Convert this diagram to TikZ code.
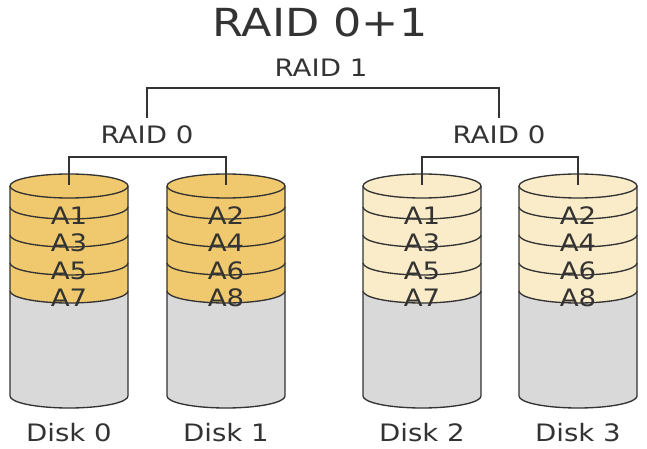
\documentclass[tikz,border=0pt]{standalone}
\usepackage{fontspec}
\setmainfont{DejaVu Sans}
\definecolor{dY}{HTML}{F0C96E}
\definecolor{lY}{HTML}{FBECC9}
\definecolor{gB}{HTML}{D9D9D9}
\definecolor{ln}{HTML}{333333}
\tikzset{lbl/.style={font=\fontsize{18}{21}\selectfont,text=ln,inner sep=0pt,xscale=1.15},
  conn/.style={draw=ln,line width=0.9pt},
  dsk/.style={draw=ln,line width=1pt}}
\newcommand\mydisk[7]{% cx, color, name, l1..l4
  \begin{scope}[shift={(#1,0)}]
  \fill[gB] (-59,186) -- (-59,396) arc[start angle=180,end angle=0,x radius=59,y radius=12] -- (59,186) -- cycle;
  \fill[#2] (-59,186) -- (-59,291) arc[start angle=180,end angle=0,x radius=59,y radius=12] -- (59,186) arc[start angle=0,end angle=-180,x radius=59,y radius=12] -- cycle;
  \foreach \yy in {207,235,263,291}{\draw[dsk] (-59,\yy) arc[start angle=180,end angle=0,x radius=59,y radius=12];}
  \draw[dsk] (0,186) ellipse[x radius=59,y radius=12];
  \draw[dsk] (-59,186) -- (-59,396) arc[start angle=180,end angle=0,x radius=59,y radius=12] -- (59,186);
  \node[lbl] at (0,216) {#4};
  \node[lbl] at (0,243) {#5};
  \node[lbl] at (0,271) {#6};
  \node[lbl] at (0,298) {#7};
  \coordinate (#3) at (0,185);
  \end{scope}}
\begin{document}
\begin{tikzpicture}[x=0.75pt,y=-0.75pt]
\useasboundingbox (0,0) rectangle (647,449);
\node[font=\fontsize{29}{34}\selectfont,text=ln,inner sep=0pt,xscale=1.15] (title) at (320,22) {RAID 0+1};
\node[lbl] (r1) at (321,68) {RAID 1};
\node[lbl] (r0a) at (147,135) {RAID 0};
\node[lbl] (r0b) at (499,135) {RAID 0};
\draw[conn] (147,118) -- (147,88) -- (499,88) -- (499,118);
\mydisk{69}{dY}{d0}{A1}{A3}{A5}{A7}
\mydisk{226}{dY}{d1}{A2}{A4}{A6}{A8}
\mydisk{422}{lY}{d2}{A1}{A3}{A5}{A7}
\mydisk{578}{lY}{d3}{A2}{A4}{A6}{A8}
\draw[conn] (d0) -- (d0 |- 0,157) -- (d1 |- 0,157) -- (d1);
\draw[conn] (d2) -- (d2 |- 0,157) -- (d3 |- 0,157) -- (d3);
\node[lbl] (l0) at (69,433) {Disk 0};
\node[lbl] (l1) at (226,433) {Disk 1};
\node[lbl] (l2) at (422,433) {Disk 2};
\node[lbl] (l3) at (578,433) {Disk 3};
\end{tikzpicture}
\end{document}
